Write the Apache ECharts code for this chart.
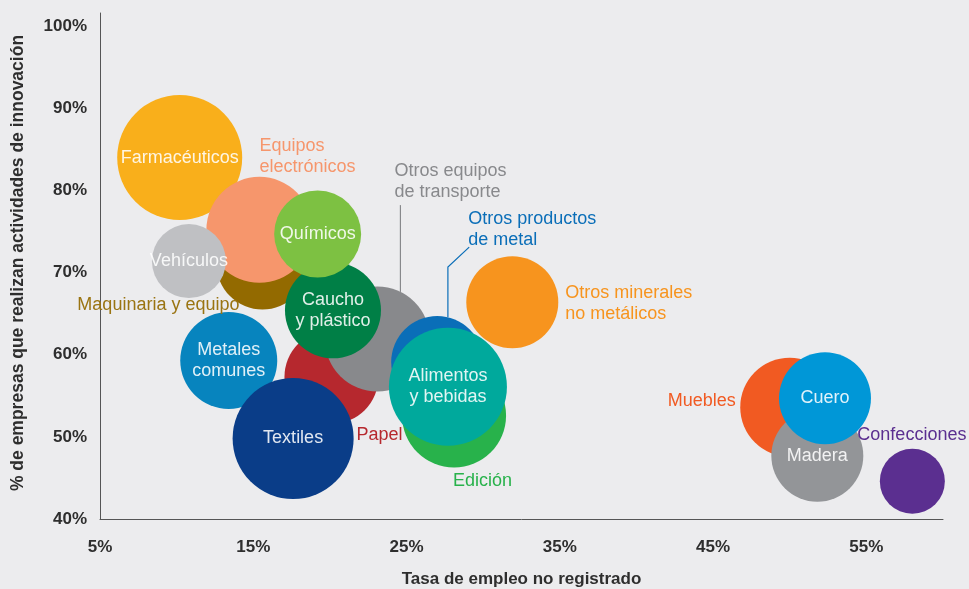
<!DOCTYPE html>
<html><head><meta charset="utf-8">
<script src="https://cdn.jsdelivr.net/npm/echarts@6/dist/echarts.min.js"></script>
<style>html,body{margin:0;padding:0;background:#ECECEE}#c{width:969px;height:589px}</style>
</head><body><div id="c"></div>
<script>
// ---- data (drawing order) ----
const sectores = ['Farmacéuticos','Maquinaria y equipo','Equipos\nelectrónicos','Vehículos','Papel',
  'Otros equipos\nde transporte','Caucho\ny plástico','Químicos','Metales\ncomunes','Textiles',
  'Otros productos\nde metal','Edición','Alimentos\ny bebidas','Otros minerales\nno metálicos',
  'Muebles','Madera','Cuero','Confecciones'];
const empleoNoRegistrado = [10.2, 15.6, 15.4, 10.8, 20.1, 23.1, 20.2, 19.2, 13.4, 17.6, 27.0, 28.1, 27.7, 31.9, 50.0, 51.8, 52.3, 58.0];
const innovacion = [84.0, 71.1, 75.2, 71.4, 57.3, 61.9, 65.4, 74.7, 59.3, 49.8, 59.1, 52.6, 56.1, 66.4, 53.6, 47.7, 54.7, 44.6];
const tamano = [125, 92, 106, 74, 94, 105, 96, 87, 97, 121, 92, 104, 118, 92, 99, 92, 92, 65];
const xTicks = [5, 15, 25, 35, 45, 55];
const yTicks = [40, 50, 60, 70, 80, 90, 100];

// ---- styles ----
const colores = ['#F9AF1B','#936A00','#F6966C','#BFC0C3','#B6282E','#88898C','#007F46','#7DC142','#0784BE',
  '#0A3D88','#0A6EB8','#28B24B','#00A99C','#F7941E','#F15A22','#939598','#0097D7','#5B2F90'];
const inside = {show:true, position:'inside', color:'rgba(255,255,255,0.88)'};
const etiquetas = [
  inside,
  {show:true, position:'inside', align:'right', offset:[-23,41], color:'#9A7412'},
  {show:true, position:'inside', align:'left', offset:[0,-73], color:'#F6966C'},
  inside,
  {show:true, position:'inside', align:'left', offset:[25,58], color:'#B6282E'},
  {show:true, position:'inside', align:'left', offset:[17,-158], color:'#88898C'},
  inside, inside, inside, inside,
  {show:true, position:'inside', align:'left', offset:[31,-133], color:'#0A6EB8'},
  {show:true, position:'inside', align:'left', offset:[-1,66], color:'#28B24B'},
  inside,
  {show:true, position:'inside', align:'left', offset:[53,1], color:'#F7941E'},
  {show:true, position:'inside', align:'right', offset:[-54,-6], color:'#F15A22'},
  inside, inside,
  {show:true, position:'inside', align:'left', offset:[-55,-46], color:'#5B2F90'}
];

const FONT = '"Liberation Sans", Arial, sans-serif';
const datos = sectores.map((s, i) => ({
  name: s,
  value: [empleoNoRegistrado[i], innovacion[i], tamano[i]],
  itemStyle: {color: colores[i], opacity: 1},
  label: Object.assign({formatter: s, fontSize: 18, lineHeight: 21, fontFamily: FONT}, etiquetas[i])
}));

const chart = echarts.init(document.getElementById('c'), null, {renderer: 'canvas'});
chart.setOption({
  backgroundColor: '#ECECEE',
  animation: false,
  grid: {left: 100, right: 26, top: 13, bottom: 70, containLabel: false, outerBoundsMode: 'none'},
  xAxis: {
    type: 'value', min: 5, max: 60, interval: 10,
    axisLine: {show: true, onZero: false, lineStyle: {color: '#555', width: 1}},
    axisTick: {show: false}, splitLine: {show: false},
    axisLabel: {margin: 20, fontSize: 17, fontWeight: 'bold', color: '#2e2e2e', fontFamily: FONT,
      formatter: v => xTicks.includes(Math.round(v)) && Math.abs(v - Math.round(v)) < 1e-6 ? Math.round(v) + '%' : ''},
    name: 'Tasa de empleo no registrado', nameLocation: 'middle', nameGap: 52,
    nameTextStyle: {fontSize: 17, fontWeight: 'bold', color: '#2e2e2e', fontFamily: FONT}
  },
  yAxis: {
    type: 'value', min: 40, max: 101.6, interval: 10,
    axisLine: {show: true, onZero: false, lineStyle: {color: '#555', width: 1}},
    axisTick: {show: false}, splitLine: {show: false},
    axisLabel: {margin: 13, fontSize: 17, fontWeight: 'bold', color: '#2e2e2e', fontFamily: FONT,
      formatter: v => yTicks.includes(Math.round(v)) && Math.abs(v - Math.round(v)) < 1e-6 ? Math.round(v) + '%' : ''}
  },
  series: [{
    type: 'scatter',
    data: datos,
    symbolSize: d => d[2],
    emphasis: {disabled: true}
  }]
});

// leader lines computed from bubble positions
function centro(i) { return chart.convertToPixel({gridIndex: 0}, [empleoNoRegistrado[i], innovacion[i]]); }
const iT = 5, iM = 10;
const cT = centro(iT), rT = tamano[iT] / 2;
const cM = centro(iM), rM = tamano[iM] / 2;
const dxT = 23, dxM = 10.7;
chart.setOption({
  graphic: [
    {type: 'text', x: 18, y: 263, rotation: Math.PI / 2,
     style: {text: '% de empresas que realizan actividades de innovación', fill: '#2e2e2e',
       font: 'bold 17.5px ' + FONT, align: 'center', verticalAlign: 'middle'}},
    {type: 'polyline', silent: true, z: 10,
     shape: {points: [[cT[0] + dxT, cT[1] - 134], [cT[0] + dxT, cT[1] - Math.sqrt(rT * rT - dxT * dxT)]]},
     style: {stroke: '#88898C', lineWidth: 1.2, fill: null}},
    {type: 'polyline', silent: true, z: 10,
     shape: {points: [[cM[0] + 32, cM[1] - 115], [cM[0] + dxM, cM[1] - 95], [cM[0] + dxM, cM[1] - Math.sqrt(rM * rM - dxM * dxM)]]},
     style: {stroke: '#0A6EB8', lineWidth: 1.2, fill: null}}
  ]
});
</script></body></html>
